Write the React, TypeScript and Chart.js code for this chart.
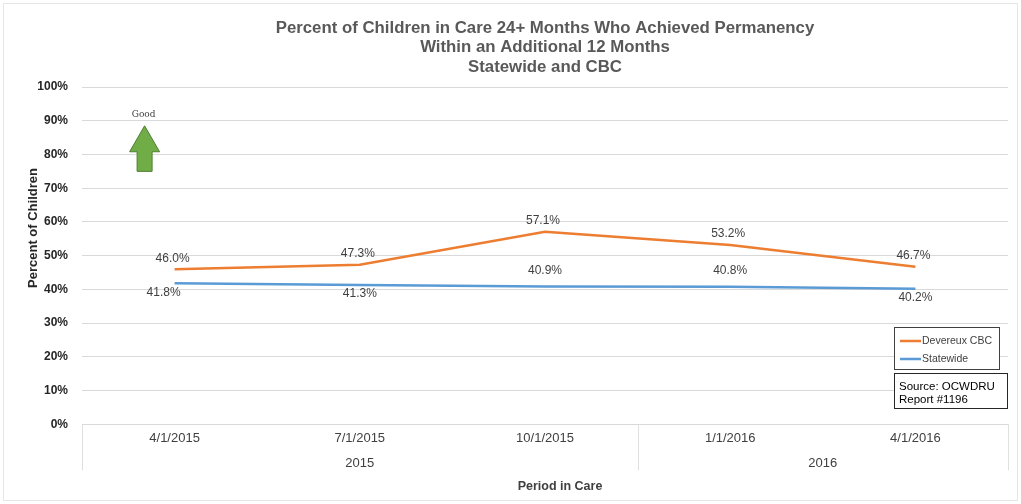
import React, { useEffect, useRef } from "react";
import { Chart, registerables } from "chart.js";

Chart.register(...registerables);

const categories = ["4/1/2015", "7/1/2015", "10/1/2015", "1/1/2016", "4/1/2016"];
const years = ["2015", "2015", "2015", "2016", "2016"];
const devereux = [46.0, 47.3, 57.1, 53.2, 46.7];
const statewide = [41.8, 41.3, 40.9, 40.8, 40.2];
const statewideLabelAbove = [false, false, true, true, false];
const titleLines = [
  "Percent of Children in Care 24+ Months Who Achieved Permanency",
  "Within an Additional 12 Months",
  "Statewide and CBC",
];
const yAxisTitle = "Percent of Children";
const xAxisTitle = "Period in Care";
const seriesNames = ["Devereux CBC", "Statewide"];
const seriesColors = ["#ED7D31", "#5B9BD5"];
const sourceLines = ["Source: OCWDRU", "Report #1196"];

const FONT = "'Liberation Sans', Arial, sans-serif";

const customPlugin = {
  id: "custom",
  afterDraw(chart: any) {
    const ctx = chart.ctx;
    const area = chart.chartArea;
    const xs = chart.scales.x;
    const ys = chart.scales.y;
    ctx.save();

    // outer border
    ctx.strokeStyle = "#e6e6e6";
    ctx.lineWidth = 1;
    ctx.strokeRect(3.5, 3.5, chart.width - 7, chart.height - 7);

    // title centered over the plot area
    ctx.fillStyle = "#595959";
    ctx.font = `bold 16.8px ${FONT}`;
    ctx.textAlign = "center";
    ctx.textBaseline = "middle";
    const cx = (area.left + area.right) / 2;
    titleLines.forEach((t, i) => ctx.fillText(t, cx, 28 + i * 19.5));

    // axis titles
    ctx.fillStyle = "#262626";
    ctx.font = `bold 13px ${FONT}`;
    ctx.save();
    ctx.translate(33, 228);
    ctx.rotate(-Math.PI / 2);
    ctx.fillText(yAxisTitle, 0, 0);
    ctx.restore();
    ctx.fillStyle = "#404040";
    ctx.font = `bold 12.5px ${FONT}`;
    ctx.fillText(xAxisTitle, cx + 15, 487);

    // multi-level axis: year groups and separators
    const bottom = area.bottom;
    const step = xs.getPixelForValue(1) - xs.getPixelForValue(0);
    ctx.strokeStyle = "#e0e0e0";
    ctx.lineWidth = 1;
    const groups: { name: string; start: number; end: number }[] = [];
    years.forEach((y, i) => {
      const g = groups[groups.length - 1];
      if (g && g.name === y) g.end = i;
      else groups.push({ name: y, start: i, end: i });
    });
    const edges: number[] = [area.left];
    groups.forEach((g) => edges.push(xs.getPixelForValue(g.end) + step / 2));
    edges.forEach((e) => {
      ctx.beginPath();
      ctx.moveTo(Math.round(e) + 0.5, bottom);
      ctx.lineTo(Math.round(e) + 0.5, bottom + 46);
      ctx.stroke();
    });
    ctx.fillStyle = "#404040";
    ctx.font = `13px ${FONT}`;
    groups.forEach((g) => {
      const mid = (xs.getPixelForValue(g.start) + xs.getPixelForValue(g.end)) / 2;
      ctx.fillText(g.name, mid, bottom + 39);
    });

    // data labels
    ctx.font = `12px ${FONT}`;
    ctx.fillStyle = "#404040";
    const m0 = chart.getDatasetMeta(0);
    m0.data.forEach((p: any, i: number) => {
      ctx.fillText(devereux[i].toFixed(1) + "%", p.x - 2, p.y - 11);
    });
    const m1 = chart.getDatasetMeta(1);
    m1.data.forEach((p: any, i: number) => {
      const dy = statewideLabelAbove[i] ? -16 : 9;
      const dx = i === 0 ? -11 : 0;
      ctx.fillText(statewide[i].toFixed(1) + "%", p.x + dx, p.y + dy);
    });

    // "Good" arrow annotation
    const ax = xs.getPixelForValue(0) - 30;
    const yTip = ys.getPixelForValue(88.5);
    const yNeck = ys.getPixelForValue(80.8);
    const yBase = ys.getPixelForValue(75);
    ctx.fillStyle = "#70AD47";
    ctx.strokeStyle = "#507E32";
    ctx.lineWidth = 1;
    ctx.beginPath();
    ctx.moveTo(ax, yTip);
    ctx.lineTo(ax + 15, yNeck);
    ctx.lineTo(ax + 7.5, yNeck);
    ctx.lineTo(ax + 7.5, yBase);
    ctx.lineTo(ax - 7.5, yBase);
    ctx.lineTo(ax - 7.5, yNeck);
    ctx.lineTo(ax - 15, yNeck);
    ctx.closePath();
    ctx.fill();
    ctx.stroke();
    ctx.fillStyle = "#404040";
    ctx.font = `9px 'DejaVu Serif', serif`;
    ctx.fillText("Good", ax - 1, ys.getPixelForValue(91.8));

    // legend box
    const lx = 894, ly = 327, lw = 105, lh = 42;
    ctx.fillStyle = "#ffffff";
    ctx.fillRect(lx, ly, lw, lh);
    ctx.strokeStyle = "#404040";
    ctx.strokeRect(lx + 0.5, ly + 0.5, lw, lh);
    ctx.font = `10.5px ${FONT}`;
    ctx.textAlign = "left";
    seriesNames.forEach((n, i) => {
      const yy = ly + 14 + i * 18;
      ctx.strokeStyle = seriesColors[i];
      ctx.lineWidth = 2.5;
      ctx.beginPath();
      ctx.moveTo(lx + 6, yy);
      ctx.lineTo(lx + 27, yy);
      ctx.stroke();
      ctx.fillStyle = "#404040";
      ctx.fillText(n, lx + 28, yy);
    });

    // source box
    const sx = 894, sy = 373, sw = 113, sh = 35;
    ctx.fillStyle = "#ffffff";
    ctx.fillRect(sx, sy, sw, sh);
    ctx.strokeStyle = "#262626";
    ctx.lineWidth = 1;
    ctx.strokeRect(sx + 0.5, sy + 0.5, sw, sh);
    ctx.fillStyle = "#000000";
    ctx.font = `11.5px ${FONT}`;
    sourceLines.forEach((s, i) => ctx.fillText(s, sx + 5, sy + 14 + i * 13));

    ctx.restore();
  },
};

export default function App() {
  const ref = useRef<HTMLCanvasElement>(null);
  useEffect(() => {
    document.body.style.margin = "0";
    const chart = new Chart(ref.current!, {
      type: "line",
      data: {
        labels: categories,
        datasets: [
          {
            label: seriesNames[0],
            data: devereux,
            borderColor: seriesColors[0],
            backgroundColor: seriesColors[0],
            borderWidth: 2.5,
            pointRadius: 0,
            tension: 0,
          },
          {
            label: seriesNames[1],
            data: statewide,
            borderColor: seriesColors[1],
            backgroundColor: seriesColors[1],
            borderWidth: 2.5,
            pointRadius: 0,
            tension: 0,
          },
        ],
      },
      options: {
        animation: false,
        responsive: false,
        maintainAspectRatio: false,
        layout: { padding: { top: 87, left: 20, right: 13, bottom: 52 } },
        plugins: {
          legend: { display: false },
          title: { display: false },
          tooltip: { enabled: false },
        },
        scales: {
          x: {
            offset: true,
            grid: { display: false, drawTicks: false },
            border: { display: true, color: "#d9d9d9" },
            ticks: {
              color: "#404040",
              font: { family: FONT, size: 13 },
              padding: 6,
              maxRotation: 0,
            },
          },
          y: {
            min: 0,
            max: 100,
            ticks: {
              stepSize: 10,
              color: "#262626",
              font: { family: FONT, size: 12, weight: "bold" },
              padding: 14,
              callback: (v: any) => `${v}%`,
            },
            grid: { color: "#d9d9d9", drawTicks: false },
            border: { display: false },
            afterFit: (scale: any) => {
              scale.width = 62;
            },
          },
        },
      },
      plugins: [customPlugin],
    });
    return () => chart.destroy();
  }, []);
  return (
    <div style={{ width: 1021, height: 504 }}>
      <canvas ref={ref} width={1021} height={504} style={{ width: 1021, height: 504 }} />
    </div>
  );
}
